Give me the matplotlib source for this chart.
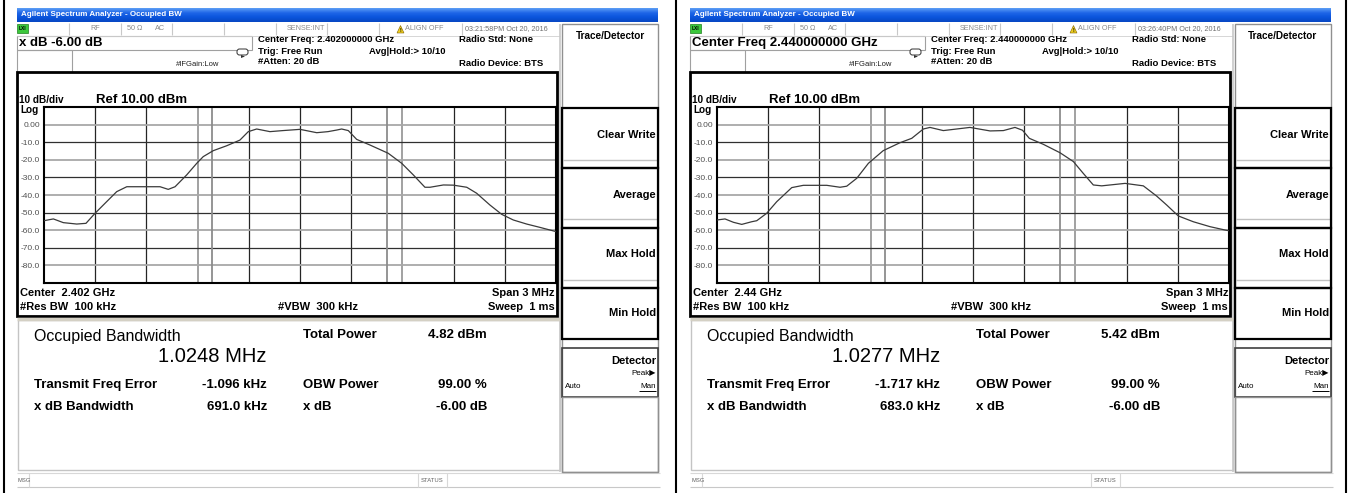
import matplotlib.pyplot as plt
import numpy as np
from matplotlib.patches import Rectangle, Polygon, FancyBboxPatch
from matplotlib.colors import LinearSegmentedColormap

plt.rcParams['font.family'] = ['Liberation Sans', 'DejaVu Sans']

entry_text = ["x dB -6.00 dB", "Center Freq 2.440000000 GHz"]
center_freq = ["2.402000000 GHz", "2.440000000 GHz"]
center_short = ["2.402 GHz", "2.44 GHz"]
timestamps = ["03:21:58PM Oct 20, 2016", "03:26:40PM Oct 20, 2016"]
obw_text = ["1.0248 MHz", "1.0277 MHz"]
total_power = ["4.82 dBm", "5.42 dBm"]
freq_error = ["-1.096 kHz", "-1.717 kHz"]
xdb_bw = ["691.0 kHz", "683.0 kHz"]
obw_mhz = [1.0248, 1.0277]
freq_err_khz = [-1.096, -1.717]

y_ticks = [0, -10, -20, -30, -40, -50, -60, -70, -80]
y_tick_labels = ["0.00", "-10.0", "-20.0", "-30.0", "-40.0", "-50.0", "-60.0", "-70.0", "-80.0"]

# trace, offset from center (MHz) vs level (dBm)
freq_a = [-1.50, -1.445, -1.387, -1.308, -1.254, -1.201, -1.133, -1.074, -1.015, -0.898,
          -0.820, -0.772, -0.732, -0.664, -0.605, -0.567, -0.508, -0.429, -0.352, -0.303,
          -0.254, -0.176, -0.100, 0.0, 0.098, 0.164, 0.215, 0.244, 0.283, 0.332,
          0.410, 0.517, 0.596, 0.664, 0.732, 0.762, 0.840, 0.898, 0.977, 1.035,
          1.113, 1.182, 1.250, 1.328, 1.406, 1.50]
level_a = [-54.6, -53.6, -55.7, -56.5, -56.1, -50.4, -43.8, -38.1, -35.3, -35.3,
           -35.3, -36.8, -35.3, -28.6, -22.0, -18.2, -14.8, -12.0, -8.8, -4.0,
           -2.5, -4.0, -3.4, -2.7, -4.6, -4.0, -3.1, -2.5, -3.4, -8.4,
           -11.6, -16.3, -22.0, -28.6, -35.6, -35.6, -34.3, -34.4, -35.6, -39.0,
           -45.7, -51.0, -54.2, -56.5, -58.4, -60.8]
freq_b = [-1.50, -1.453, -1.404, -1.355, -1.297, -1.267, -1.209, -1.150, -1.062, -0.994,
          -0.857, -0.779, -0.740, -0.681, -0.613, -0.526, -0.428, -0.359, -0.291, -0.252,
          -0.174, -0.096, -0.018, 0.100, 0.178, 0.246, 0.290, 0.330, 0.412, 0.510,
          0.588, 0.646, 0.705, 0.754, 0.803, 0.891, 0.998, 1.076, 1.135, 1.203,
          1.291, 1.389, 1.477, 1.50]
level_b = [-54.2, -53.6, -55.5, -56.7, -55.2, -54.6, -50.4, -43.8, -35.8, -34.5,
           -34.5, -35.6, -35.0, -30.5, -22.0, -14.8, -10.3, -7.8, -2.5, -1.6,
           -3.4, -2.5, -1.6, -3.6, -3.4, -1.6, -3.2, -7.8, -11.2, -16.0,
           -21.0, -27.7, -34.3, -34.8, -34.3, -33.4, -34.8, -40.6, -45.7, -51.9,
           -55.2, -58.0, -59.9, -60.3]
traces = [(freq_a, level_a), (freq_b, level_b)]

W, H = 1354, 493
fig = plt.figure(figsize=(W / 100, H / 100), dpi=100)
bg = fig.add_axes([0, 0, 1, 1])
bg.axis('off')

xp = LinearSegmentedColormap.from_list('xp', ['#5a9cf4', '#1f66e8', '#0a54dc', '#0848c4'])
grad = np.linspace(0, 1, 20).reshape(-1, 1)


def T(x, y, s, size, bold=False, ha='left', color='black', **kw):
    bg.text(x, y, s, fontsize=size, fontweight='bold' if bold else 'normal',
            ha=ha, va='center', color=color, **kw)


def box(x0, y0, x1, y1, ec='#a0a0a0', lw=0.8, fc='none', z=2):
    bg.add_patch(Rectangle((x0, y0), x1 - x0, y1 - y0, ec=ec, fc=fc, lw=lw, zorder=z))


def hline(x0, x1, y, c, lw=1.0):
    bg.plot([x0, x1], [y, y], color=c, lw=lw, solid_capstyle='butt', zorder=3)


def vline(x, y0, y1, c, lw=1.0):
    bg.plot([x, x], [y0, y1], color=c, lw=lw, solid_capstyle='butt', zorder=3)


def panel(i, ox):
    # title bar
    bg.imshow(grad, extent=(ox + 17, ox + 658, 22, 8), aspect='auto', cmap=xp, zorder=1)
    T(ox + 21, 15, "Agilent Spectrum Analyzer - Occupied BW", 5.8, True, color='white')

    # status row
    bg.add_patch(Rectangle((ox + 17, 24), 11, 9, fc='#3cc83c', ec='#208020', lw=0.5, zorder=3))
    T(ox + 22.5, 28.5, "LXI", 3.5, True, ha='center')
    for dx in [69, 121, 172, 224, 276, 327, 379, 462]:
        vline(ox + dx, 23, 35, '#c8c8c8', 0.8)
    hline(ox + 17, ox + 560, 35.5, '#d0d0d0', 0.6)
    T(ox + 95, 29, "RF", 5.2, color='#8a8a8a', ha='center')
    T(ox + 127, 29, "50 Ω", 5.2, color='#8a8a8a')
    T(ox + 155, 29, "AC", 5.2, color='#8a8a8a')
    T(ox + 325, 29, "SENSE:INT", 5.2, color='#8a8a8a', ha='right')
    bg.add_patch(Polygon([[ox + 397, 33], [ox + 404, 33], [ox + 400.5, 25.5]],
                         fc='#f0d020', ec='#806000', lw=0.4, zorder=3))
    T(ox + 400.5, 30.2, "!", 3.5, True, ha='center')
    T(ox + 405, 29, "ALIGN OFF", 5.2, color='#8a8a8a')
    T(ox + 465, 29, timestamps[i], 5.2, color='#707070')

    # entry area
    box(ox + 17, 36, ox + 252, 49.5)
    T(ox + 19, 43, entry_text[i], 9.5, True)
    box(ox + 17, 50, ox + 72, 72)
    T(ox + 176, 64.5, "#IFGain:Low", 5.5, color='#202020')
    bg.add_patch(FancyBboxPatch((ox + 237, 49), 11, 6, boxstyle='round,pad=0,rounding_size=2.5',
                                ec='#303030', fc='white', lw=0.7, zorder=3))
    bg.add_patch(Polygon([[ox + 241, 55], [ox + 245, 56.5], [ox + 241, 58]], fc='#303030', lw=0, zorder=4))
    T(ox + 258, 40, "Center Freq: " + center_freq[i], 6.8, True)
    T(ox + 258, 51, "Trig: Free Run", 6.8, True)
    T(ox + 258, 62, "#Atten: 20 dB", 6.8, True)
    T(ox + 369, 51, "Avg|Hold:> 10/10", 6.8, True)
    T(ox + 459, 40, "Radio Std: None", 6.8, True)
    T(ox + 459, 63, "Radio Device: BTS", 6.8, True)

    # softkey column
    box(ox + 562, 24, ox + 658, 472, ec='#909090', lw=1.0)
    vline(ox + 560, 24, 472, '#c8c8c8', 1.2)
    T(ox + 610, 36, "Trace/Detector", 7.2, True, ha='center')
    for y0, y1 in [(108, 168), (168, 228), (228, 288), (288, 339)]:
        box(ox + 562, y0, ox + 658, y1, ec='black', lw=1.6, z=4)
    box(ox + 562, 348, ox + 658, 397, ec='#404040', lw=1.2, z=4)
    box(ox + 562, 397, ox + 658, 472, ec='#909090', lw=1.0, z=4)
    for y in [160, 219, 280]:
        hline(ox + 563, ox + 657, y, '#c0c0c0', 1.0)
    for y, s in [(135, "Clear Write"), (195, "Average"), (254, "Max Hold"),
                 (313, "Min Hold"), (361, "Detector")]:
        T(ox + 656, y, s, 8, True, ha='right')
    T(ox + 656, 374, "Peak▶", 5.8, ha='right')
    T(ox + 565, 386, "Auto", 5.8)
    T(ox + 656, 386, "Man", 5.8, ha='right')
    hline(ox + 639, ox + 656, 390.5, 'black', 0.7)

    # graph box
    box(ox + 17, 72, ox + 557, 316, ec='black', lw=2.0, fc='white', z=2)
    T(ox + 19, 100, "10 dB/div", 7.2, True)
    T(ox + 96, 100, "Ref 10.00 dBm", 9.5, True)
    T(ox + 20, 110, "Log", 7.2, True)
    T(ox + 20, 293, "Center  " + center_short[i], 8, True)
    T(ox + 555, 293, "Span 3 MHz", 8, True, ha='right')
    T(ox + 20, 307, "#Res BW  100 kHz", 8, True)
    T(ox + 278, 307, "#VBW  300 kHz", 8, True)
    T(ox + 555, 307, "Sweep  1 ms", 8, True, ha='right')
    hline(ox + 17, ox + 560, 318.5, '#d4d0c4', 2.5)

    # results
    box(ox + 18, 320, ox + 560, 470, ec='#c4c4c4', lw=1.0)
    T(ox + 34, 337, "Occupied Bandwidth", 11.5)
    T(ox + 267, 357, obw_text[i], 14.5, ha='right')
    T(ox + 34, 385, "Transmit Freq Error", 9.5, True)
    T(ox + 267, 385, freq_error[i], 9.5, True, ha='right')
    T(ox + 34, 407, "x dB Bandwidth", 9.5, True)
    T(ox + 267, 407, xdb_bw[i], 9.5, True, ha='right')
    T(ox + 303, 335, "Total Power", 9.5, True)
    T(ox + 487, 335, total_power[i], 9.5, True, ha='right')
    T(ox + 303, 385, "OBW Power", 9.5, True)
    T(ox + 487, 385, "99.00 %", 9.5, True, ha='right')
    T(ox + 303, 407, "x dB", 9.5, True)
    T(ox + 487, 407, "-6.00 dB", 9.5, True, ha='right')

    # message row
    hline(ox + 17, ox + 660, 473, '#d8d8d8', 0.8)
    hline(ox + 17, ox + 660, 487, '#c8c8c8', 0.8)
    vline(ox + 29, 473, 487, '#d8d8d8', 0.8)
    vline(ox + 418, 473, 487, '#d8d8d8', 0.8)
    vline(ox + 447, 473, 487, '#d8d8d8', 0.8)
    T(ox + 18, 480, "MSG", 4.2, color='#606060')
    T(ox + 432.5, 480, "STATUS", 4.2, color='#606060', ha='center')

    # trace plot
    ax = fig.add_axes([(ox + 44) / W, 1 - 283 / H, 512 / W, 176 / H])
    ax.set_xlim(-1.5, 1.5)
    ax.set_ylim(-90, 10)
    for k, f in enumerate(np.linspace(-1.5, 1.5, 11)[1:-1]):
        ax.axvline(f, color='#9a9a9a' if k in (2, 6) else '#252525',
                   lw=1.3 if k in (2, 6) else 0.9, zorder=1)
    for k, lv in enumerate(y_ticks):
        ax.axhline(lv, color='#a8a8a8' if k % 2 == 0 else '#303030',
                   lw=1.3 if k % 2 == 0 else 0.9, zorder=1)
    c = freq_err_khz[i] / 1000
    for f in (c - obw_mhz[i] / 2, c + obw_mhz[i] / 2):
        ax.axvline(f, color='#8c8c8c', lw=1.3, zorder=1)
    fx, lv = traces[i]
    ax.plot(fx, lv, color='#3a3a3a', lw=0.9, zorder=3)
    ax.set_xticks([])
    ax.set_yticks(y_ticks)
    ax.set_yticklabels(y_tick_labels)
    ax.tick_params(axis='y', length=0, pad=3, labelsize=6, labelcolor='#505050')
    for s in ax.spines.values():
        s.set_linewidth(1.5)
        s.set_color('black')


for i, ox in enumerate([0, 673]):
    panel(i, ox)

for x in [4, 675.5, 1345.5]:
    vline(x, 0, H, 'black', 1.5)

bg.set_xlim(0, W)
bg.set_ylim(H, 0)

fig.savefig('out.png', dpi=100)
